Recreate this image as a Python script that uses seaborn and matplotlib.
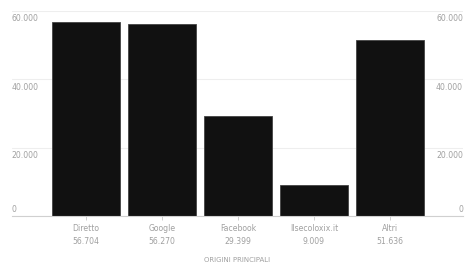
import matplotlib
matplotlib.use("Agg")
import matplotlib.pyplot as plt
import seaborn as sns
import pandas as pd

# data
sources = ["Diretto", "Google", "Facebook", "Ilsecoloxix.it", "Altri"]
visits = [56704, 56270, 29399, 9009, 51636]
y_ticks = [0, 20000, 40000, 60000]

df = pd.DataFrame({"source": sources, "visits": visits})

sns.set_theme(style="white")
plt.rcParams["font.family"] = ["DejaVu Sans"]

txt = "#a0a0a0"
fs = 5.6

fig = plt.figure(figsize=(4.68, 2.65), dpi=100)
ax = fig.add_axes([12 / 468, 1 - 216 / 265, (463 - 12) / 468, (216 - 11) / 265])

sns.barplot(data=df, x="source", y="visits", color="#111111", width=0.9,
            edgecolor="#444444", linewidth=0.6, saturation=1, ax=ax)

ax.set_xlim(-0.97, 4.96)
ax.set_ylim(0, 60000)
ax.set_yticks(y_ticks)
ax.yaxis.grid(True, color="#eeeeee", linewidth=0.8)
ax.set_axisbelow(True)
for s in ["top", "left", "right"]:
    ax.spines[s].set_visible(False)
ax.spines["bottom"].set_color("#d0d0d0")
ax.spines["bottom"].set_linewidth(0.8)

# y labels drawn inside the plot on both sides
ax.tick_params(axis="y", length=0, labelleft=False, labelright=False)
for v in y_ticks:
    lab = f"{v:,}".replace(",", ".")
    if v == 0:
        va, yy = "bottom", 700
    else:
        va, yy = "top", v - 1000
    ax.text(-0.002, yy, lab, transform=ax.get_yaxis_transform(),
            ha="left", va=va, fontsize=fs, color=txt)
    ax.text(1.0, yy, lab, transform=ax.get_yaxis_transform(),
            ha="right", va=va, fontsize=fs, color=txt)

ax.set_xticks(range(len(sources)))
ax.set_xticklabels([f"{s}\n{v:,}".replace(",", ".") for s, v in zip(sources, visits)],
                   fontsize=fs, color=txt, linespacing=1.5)
ax.tick_params(axis="x", length=3, width=0.6, color="#c8c8c8", pad=3, bottom=True)
ax.set_xlabel("ORIGINI PRINCIPALI", fontsize=5.0, color=txt, labelpad=8)
ax.set_ylabel("")

fig.savefig("out.png", dpi=100)
